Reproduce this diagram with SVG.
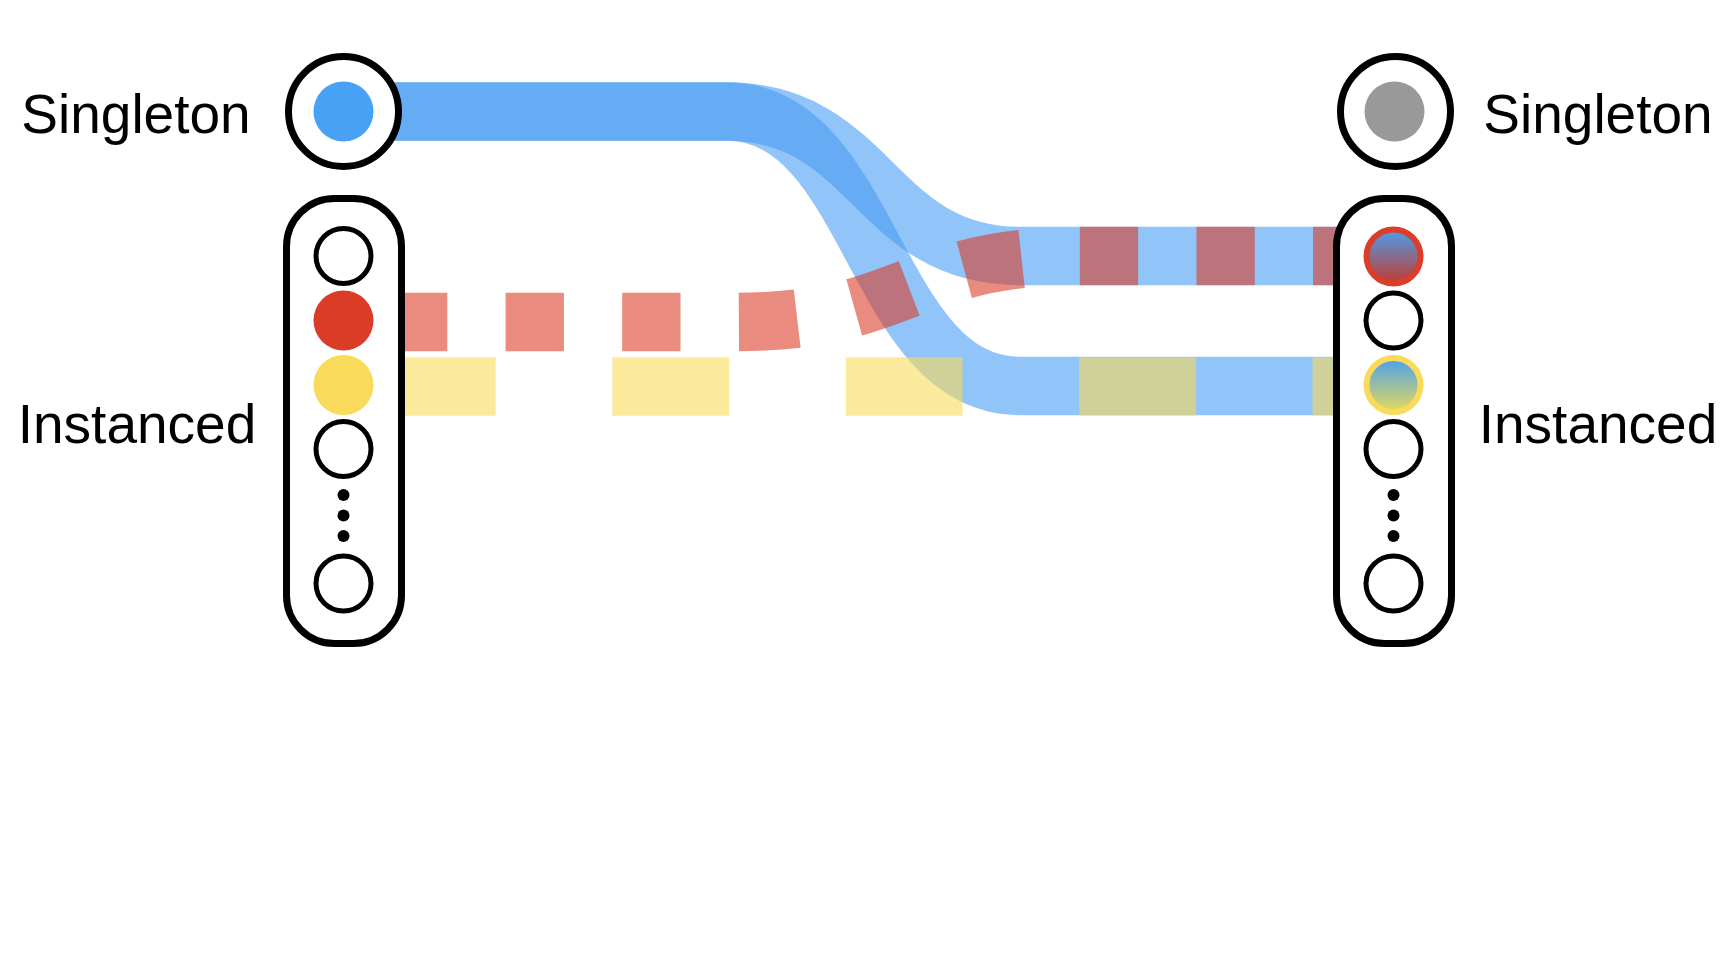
<svg xmlns="http://www.w3.org/2000/svg" width="1730" height="979" viewBox="0 0 1730 979">
<style>
.label{font-family:"Liberation Sans",Arial,Helvetica,sans-serif;font-size:55px;fill:#000;text-anchor:middle}
.frame{fill:#fff;stroke:#000;stroke-width:7}
.slot{fill:#fff;stroke:#000;stroke-width:5}
.dot{fill:#000}
.band{fill:none;stroke-width:58.5;stroke-linecap:butt;stroke-opacity:0.6}
.blue{stroke:#479CF3}
.red{stroke:#DA3E28;stroke-dasharray:58.3 58.3;stroke-dashoffset:71.1}
.yellow{stroke:#F9DA5A;stroke-dasharray:116.7 116.7;stroke-dashoffset:197.9}
</style>
<defs>
<linearGradient id="gRed" x1="0" y1="0" x2="0" y2="1">
<stop offset="0" stop-color="#4A9EEC"/>
<stop offset="1" stop-color="#C23A2E"/>
</linearGradient>
<linearGradient id="gYellow" x1="0" y1="0" x2="0" y2="1">
<stop offset="0" stop-color="#4AA0EE"/>
<stop offset="1" stop-color="#E6DA5C"/>
</linearGradient>
</defs>
<rect width="1730" height="979" fill="#fff"/>
<g id="connectors">
<path class="band blue" d="M343.5,111.5 H726 C873,111.5 873,256 1020,256 H1393.5"/>
<path class="band blue" d="M343.5,111.5 H726 C873,111.5 873,386 1020,386 H1393.5"/>
<path class="band red" d="M343.5,322 H735 C907.5,322 907.5,256 1080,256 H1393.5"/>
<path class="band yellow" d="M343.5,386.5 H1393.5"/>
</g>
<g id="left-singleton">
<text class="label" x="136" y="133">Singleton</text>
<circle class="frame" cx="343.5" cy="111.5" r="55"/>
<circle cx="343.5" cy="111.5" r="30" fill="#49A1F6"/>
</g>
<g id="left-instanced">
<text class="label" x="137" y="443">Instanced</text>
<rect class="frame" x="286.5" y="198.5" width="115" height="445" rx="48" ry="48"/>
<circle class="slot" cx="343.5" cy="256" r="27.5"/>
<circle cx="343.5" cy="320.5" r="30" fill="#DA3D27"/>
<circle cx="343.5" cy="385" r="30" fill="#F9DA5A"/>
<circle class="slot" cx="343.5" cy="449" r="27.5"/>
<circle class="dot" cx="343.5" cy="495" r="6"/>
<circle class="dot" cx="343.5" cy="515.5" r="6"/>
<circle class="dot" cx="343.5" cy="536" r="6"/>
<circle class="slot" cx="343.5" cy="583.5" r="27.5"/>
</g>
<g id="right-singleton">
<text class="label" x="1598" y="133">Singleton</text>
<circle class="frame" cx="1395.5" cy="111.5" r="55"/>
<circle cx="1394.5" cy="111.5" r="30" fill="#999999"/>
</g>
<g id="right-instanced">
<text class="label" x="1598" y="443">Instanced</text>
<rect class="frame" x="1336.5" y="198.5" width="115" height="445" rx="48" ry="48"/>
<circle cx="1393.5" cy="256.5" r="27" fill="url(#gRed)" stroke="#DA3E28" stroke-width="6"/>
<circle class="slot" cx="1393.5" cy="320.5" r="27.5"/>
<circle cx="1393.5" cy="385" r="27" fill="url(#gYellow)" stroke="#F9DA5A" stroke-width="6"/>
<circle class="slot" cx="1393.5" cy="449" r="27.5"/>
<circle class="dot" cx="1393.5" cy="495" r="6"/>
<circle class="dot" cx="1393.5" cy="515.5" r="6"/>
<circle class="dot" cx="1393.5" cy="536" r="6"/>
<circle class="slot" cx="1393.5" cy="583.5" r="27.5"/>
</g>
</svg>
